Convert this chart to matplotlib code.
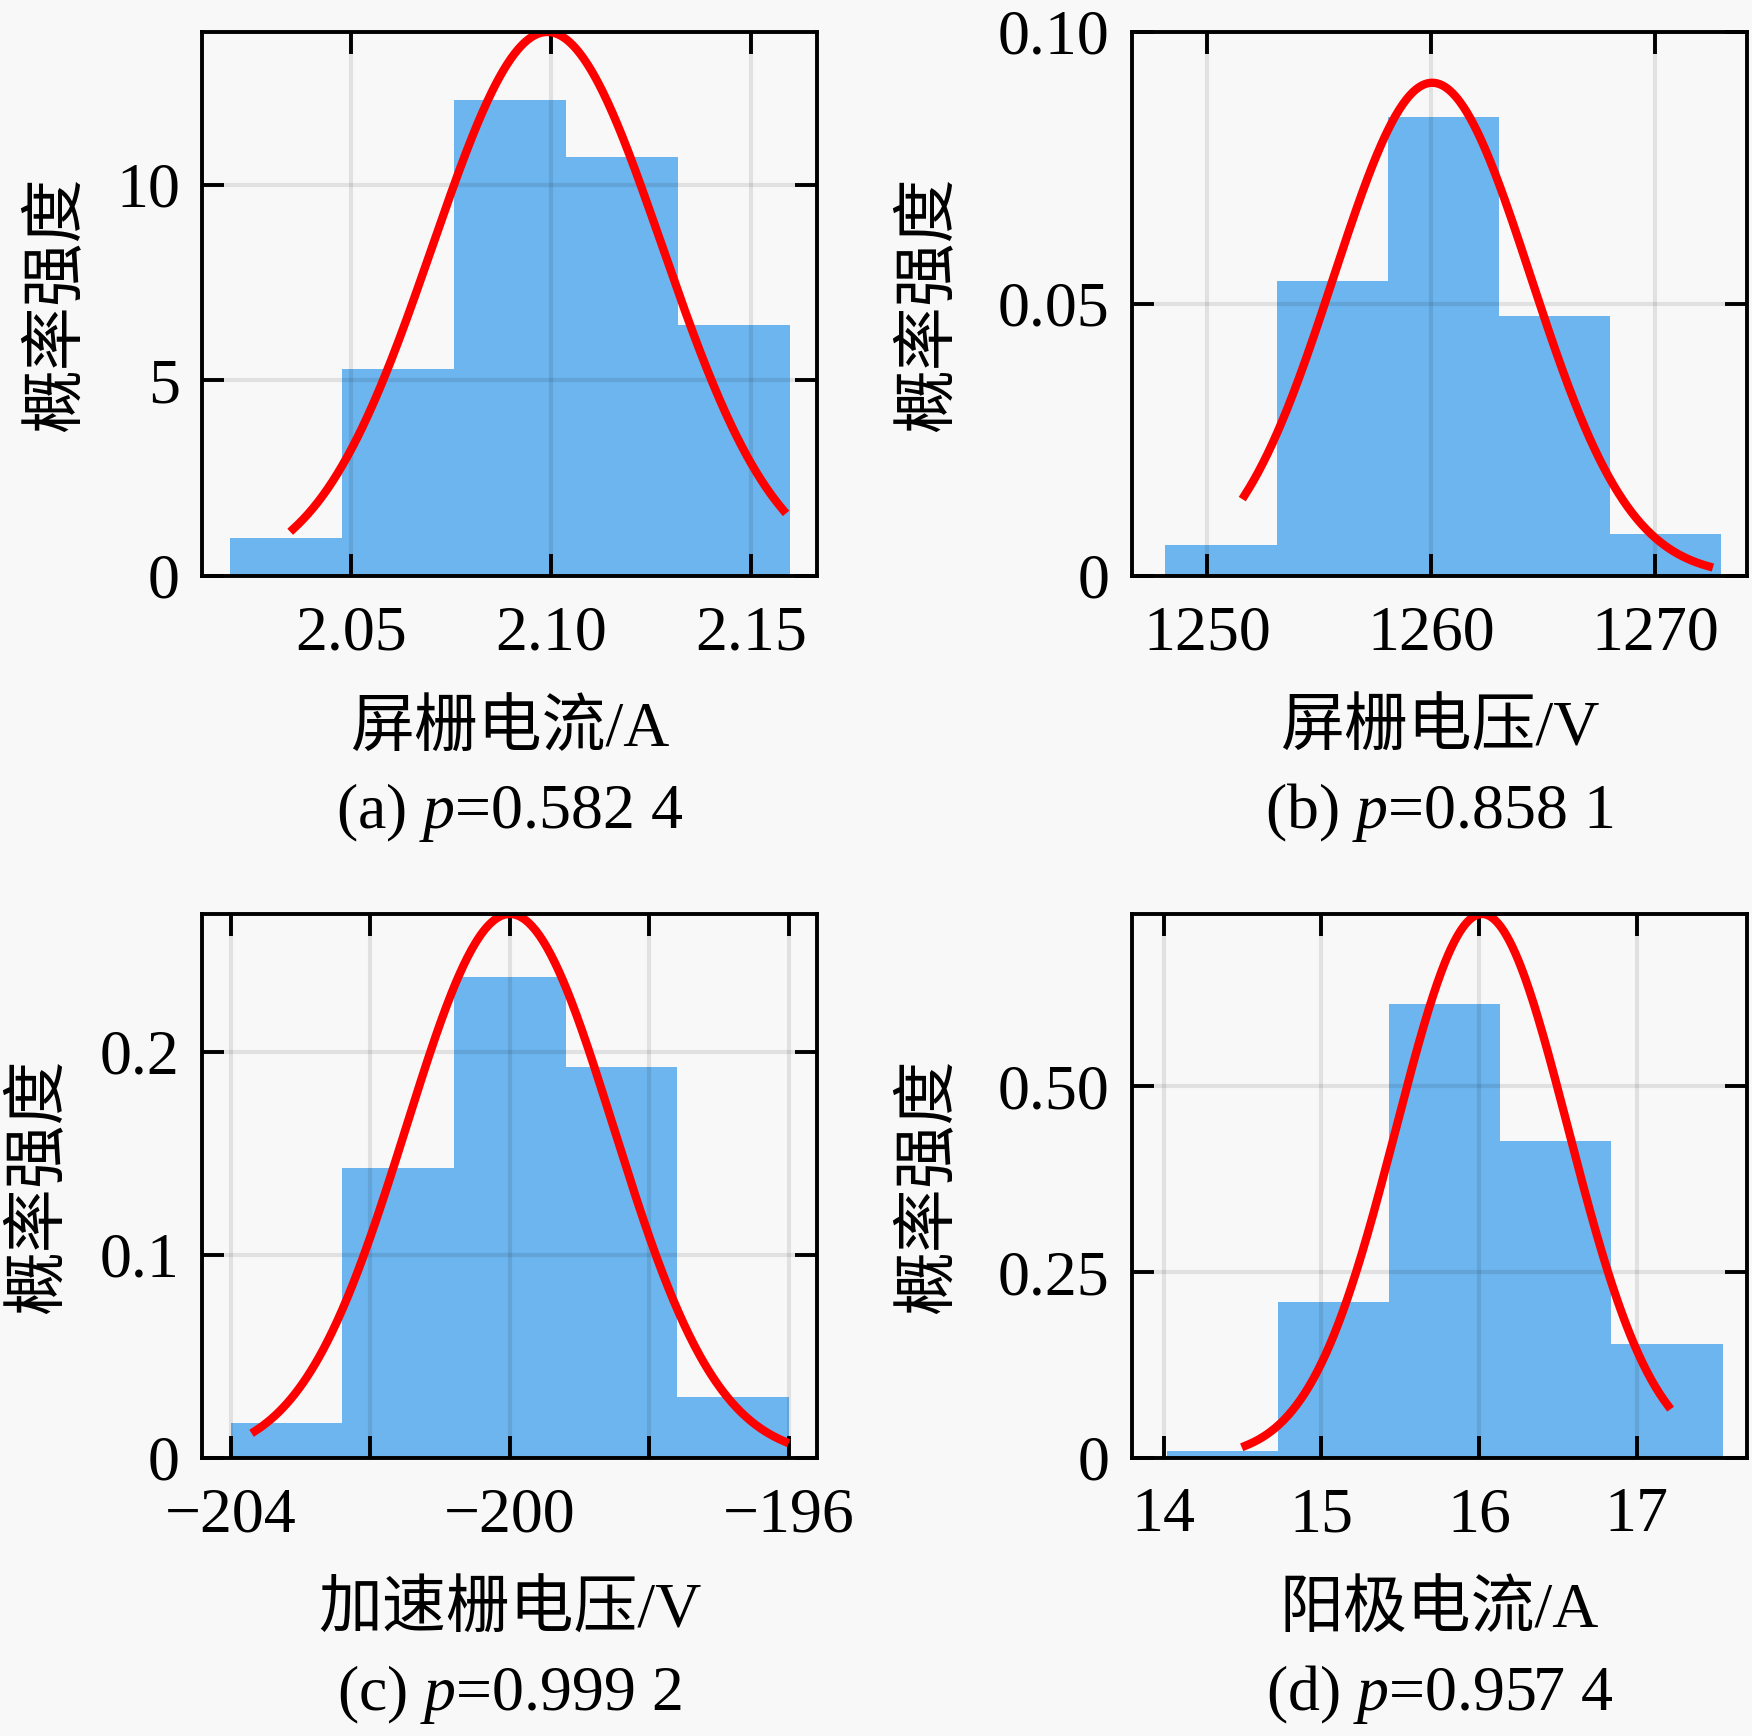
import numpy as np
import matplotlib
matplotlib.use('Agg')
import matplotlib.pyplot as plt

plt.rcParams['font.family'] = ['Liberation Serif', 'Noto Sans CJK SC']
plt.rcParams['mathtext.fontset'] = 'custom'
plt.rcParams['mathtext.rm'] = 'Liberation Serif'
plt.rcParams['mathtext.it'] = 'Liberation Serif:italic'
plt.rcParams['axes.unicode_minus'] = True

# (a) 屏栅电流
a_edges = [2.0196, 2.0476, 2.0756, 2.1036, 2.1316, 2.1596]
a_density = [0.97, 5.30, 12.17, 10.70, 6.42]
a_mu, a_sigma = 2.099, 0.0287
a_curve = [2.0355, 2.158]

# (b) 屏栅电压
b_edges = [1248.14, 1253.10, 1258.06, 1263.02, 1267.98, 1272.94]
b_density = [0.0057, 0.0542, 0.0844, 0.0478, 0.0077]
b_mu, b_sigma = 1260.05, 4.40
b_curve = [1251.67, 1272.4]

# (c) 加速栅电压
c_edges = [-204.0, -202.4, -200.8, -199.2, -197.6, -196.0]
c_density = [0.0170, 0.1430, 0.2369, 0.1927, 0.0301]
c_mu, c_sigma = -200.0, 1.489
c_curve = [-203.65, -196.06]

# (d) 阳极电流
d_edges = [14.02, 14.725, 15.43, 16.135, 16.84, 17.55]
d_density = [0.0090, 0.2098, 0.6114, 0.4264, 0.1539]
d_mu, d_sigma = 16.02, 0.545
d_curve = [14.52, 17.20]

xlabels = ['屏栅电流/A', '屏栅电压/V', '加速栅电压/V', '阳极电流/A']
captions = ['(a) $p$=0.582 4', '(b) $p$=0.858 1', '(c) $p$=0.999 2', '(d) $p$=0.957 4']
ylabel = '概率强度'

bg = '#f8f8f8'
bar_color = '#6cb5ee'
fs = 46

fig = plt.figure(figsize=(17.52, 17.36), dpi=100, facecolor=bg)

W, H = 1752, 1736
pos = {
    'a': [202 / W, 1 - 576 / H, 615 / W, 544 / H],
    'b': [1132 / W, 1 - 576 / H, 615 / W, 544 / H],
    'c': [202 / W, 1 - 1458 / H, 615 / W, 544 / H],
    'd': [1132 / W, 1 - 1458 / H, 615 / W, 544 / H],
}

panels = [
    ('a', a_edges, a_density, a_mu, a_sigma, a_curve, (2.0127, 2.1664), (0, 13.90),
     [2.05, 2.10, 2.15], ['2.05', '2.10', '2.15'], [0, 5, 10], ['0', '5', '10'], -0.234),
    ('b', b_edges, b_density, b_mu, b_sigma, b_curve, (1246.65, 1274.1), (0, 0.10),
     [1250, 1260, 1270], ['1250', '1260', '1270'], [0, 0.05, 0.10], ['0', '0.05', '0.10'], -0.328),
    ('c', c_edges, c_density, c_mu, c_sigma, c_curve, (-204.41, -195.60), (0, 0.2679),
     [-204, -202, -200, -198, -196], ['\u2212204', '', '\u2212200', '', '\u2212196'],
     [0, 0.1, 0.2], ['0', '0.1', '0.2'], -0.263),
    ('d', d_edges, d_density, d_mu, d_sigma, d_curve, (13.80, 17.70), (0, 0.732),
     [14, 15, 16, 17], ['14', '15', '16', '17'], [0, 0.25, 0.5], ['0', '0.25', '0.50'], -0.328),
]

for i, (key, edges, dens, mu, sigma, crange, xlim, ylim, xt, xtl, yt, ytl, ylx) in enumerate(panels):
    ax = fig.add_axes(pos[key])
    ax.set_facecolor(bg)
    edges = np.array(edges)
    ax.bar(edges[:-1], dens, width=np.diff(edges), align='edge',
           color=bar_color, linewidth=0, zorder=1)

    # 正态拟合曲线
    x = np.linspace(crange[0], crange[1], 400)
    y = np.exp(-0.5 * ((x - mu) / sigma) ** 2) / (sigma * np.sqrt(2 * np.pi))
    ax.plot(x, y, color='#ff0000', lw=6, zorder=3)

    ax.set_xlim(*xlim)
    ax.set_ylim(*ylim)
    ax.set_xticks(xt)
    ax.set_xticklabels(xtl)
    ax.set_yticks(yt)
    ax.set_yticklabels(ytl)

    ax.set_axisbelow(False)
    ax.grid(True, color='black', alpha=0.09, lw=3)
    ax.tick_params(direction='in', top=True, right=True, length=16, width=2.8,
                   labelsize=fs, color='black')
    ax.tick_params(axis='x', pad=21)
    ax.tick_params(axis='y', pad=16)
    for sp in ax.spines.values():
        sp.set_linewidth(2.8)
        sp.set_zorder(4)

    ax.text(ylx, 0.5, ylabel, transform=ax.transAxes, rotation=90,
            ha='center', va='center', fontsize=fs)
    ax.text(0.5, -0.284, xlabels[i], transform=ax.transAxes,
            ha='center', va='center', fontsize=fs)
    ax.text(0.5, -0.434, captions[i], transform=ax.transAxes,
            ha='center', va='center', fontsize=fs)

fig.savefig('out.png', dpi=100, facecolor=bg)
